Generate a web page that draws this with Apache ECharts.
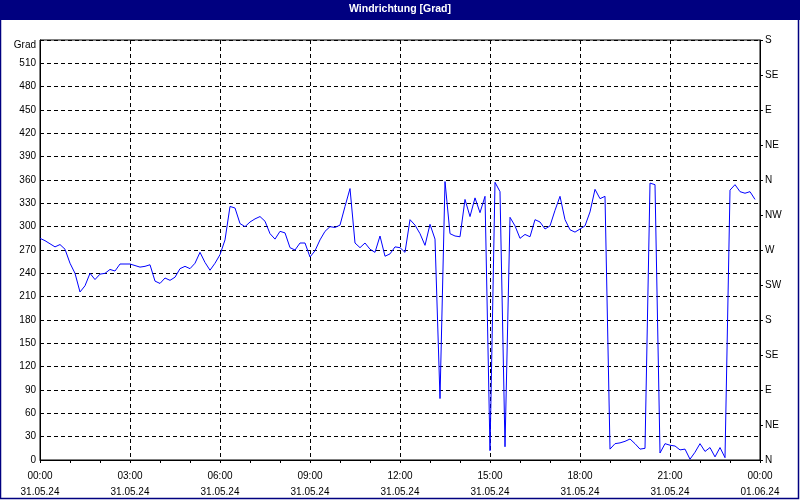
<!DOCTYPE html>
<html><head><meta charset="utf-8">
<script src="https://cdn.jsdelivr.net/npm/echarts@6/dist/echarts.min.js"></script>
<style>html,body{margin:0;padding:0;background:#fff}#c{width:800px;height:500px}</style>
</head><body><div id="c"></div>
<script>
const titleText = 'Windrichtung [Grad]';
const leftUnit = 'Grad';
const stepMinutes = 10;
const windDir = [
  285,282,278,274,277,271,253,240,216,224,240,232,239,240,245,243,252,252,252,250,
  248,249,251,230,227,234,231,235,246,249,246,253,267,254,244,253,264,283,326,324,
  304,300,306,310,313,307,291,284,294,292,273,270,279,279,261,269,283,294,300,299,
  302,326,349,279,273,279,271,267,288,262,265,274,273,267,309,302,291,276,303,284,
  79,358,291,288,287,335,313,337,318,339,12,357,345,17,312,301,285,290,287,309,
  306,297,301,321,339,309,296,293,297,301,319,348,336,339,14,21,22,24,27,21,
  14,15,356,354,9,21,19,18,13,14,1,10,21,11,16,4,16,3,347,354,
  345,343,345,335
];
const timeTicks = ['00:00','03:00','06:00','09:00','12:00','15:00','18:00','21:00','00:00'];
const dateTicks = ['31.05.24','31.05.24','31.05.24','31.05.24','31.05.24','31.05.24','31.05.24','31.05.24','01.06.24'];
const compass = ['N','NE','E','SE','S','SW','W','NW','N','NE','E','SE','S'];

const FONT = 'Liberation Sans';
const chart = echarts.init(document.getElementById('c'), null, {renderer:'canvas'});
const seriesData = windDir.map((v, i) => [i * stepMinutes, v]);
const dash = [4, 3];

chart.setOption({
  animation: false,
  backgroundColor: '#ffffff',
  textStyle: {fontFamily: FONT},
  graphic: [
    {type:'rect', shape:{x:0, y:0, width:800, height:20}, style:{fill:'#000080'}, z:10},
    {type:'rect', shape:{x:0.5, y:0.5, width:798, height:498}, style:{fill:'none', stroke:'#000080', lineWidth:1.5}, z:10},
    {type:'text', x:400, y:9, style:{text:titleText, fill:'#ffffff', font:'bold 10.5px "Liberation Sans"', align:'center', verticalAlign:'middle'}, z:11},
    {type:'text', x:36, y:45, style:{text:leftUnit, fill:'#000', font:'10px "Liberation Sans"', align:'right', verticalAlign:'middle'}, z:11}
  ],
  grid: {left:40, right:40, top:40, bottom:40, show:true, borderColor:'#000', borderWidth:1, backgroundColor:'#fff'},
  xAxis: {
    type:'value', min:0, max:1440, interval:180,
    axisLine:{show:true, lineStyle:{color:'#000', width:1}},
    axisTick:{show:true, length:3, lineStyle:{color:'#000'}},
    minorTick:{show:true, splitNumber:3, length:3, lineStyle:{color:'#000'}},
    splitLine:{show:true, lineStyle:{color:'#000', type:dash, width:1}},
    axisLabel:{
      margin:8, color:'#000', fontSize:10, fontFamily:FONT, lineHeight:16,
      formatter:(v) => { const k = Math.round(v / 180); return timeTicks[k] + '\n' + dateTicks[k]; }
    }
  },
  yAxis: [
    {
      type:'value', min:0, max:540, interval:30, position:'left',
      axisLine:{show:true, lineStyle:{color:'#000'}},
      axisTick:{show:false},
      splitLine:{show:true, lineStyle:{color:'#000', type:dash, width:1}},
      axisLabel:{margin:4, color:'#000', fontSize:10, fontFamily:FONT,
        formatter:(v) => v >= 540 ? '' : String(v)}
    },
    {
      type:'value', min:0, max:540, interval:45, position:'right',
      axisLine:{show:true, lineStyle:{color:'#000'}},
      axisTick:{show:true, length:3, lineStyle:{color:'#000'}},
      splitLine:{show:false},
      axisLabel:{margin:5, color:'#000', fontSize:10, fontFamily:FONT,
        formatter:(v) => compass[Math.round(v / 45)]}
    }
  ],
  series: [{
    type:'line', data:seriesData, yAxisIndex:0, showSymbol:false, symbol:'none',
    lineStyle:{color:'#0000ff', width:1}, smooth:false, z:5
  }]
});
</script></body></html>
